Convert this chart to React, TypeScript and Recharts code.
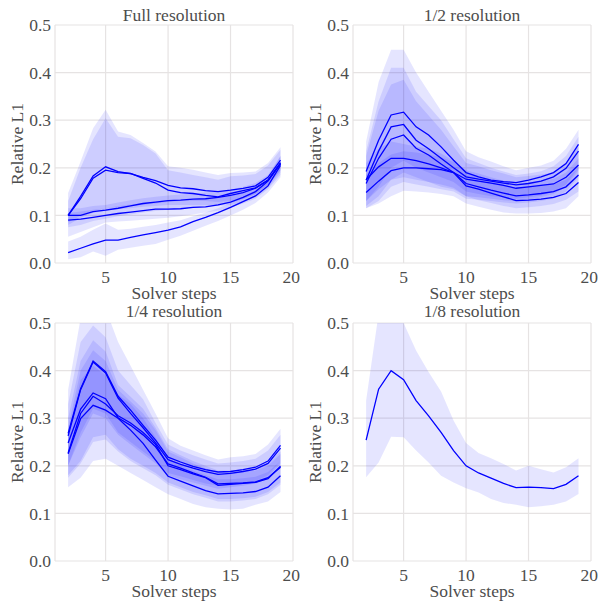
import { ComposedChart, Line, Area, XAxis, YAxis, CartesianGrid } from "recharts";

const steps = [2, 3, 4, 5, 6, 7, 8, 9, 10, 11, 12, 13, 14, 15, 16, 17, 18, 19];
const yTicks = [0, 0.1, 0.2, 0.3, 0.4, 0.5];
const xTicks = [5, 10, 15, 20];

// Full resolution
const fullMean = [
  [0.1, 0.14, 0.183, 0.202, 0.192, 0.188, 0.18, 0.173, 0.163, 0.158, 0.156, 0.152, 0.15, 0.153, 0.157, 0.162, 0.18, 0.216],
  [0.1, 0.135, 0.178, 0.195, 0.19, 0.188, 0.178, 0.168, 0.153, 0.148, 0.146, 0.142, 0.139, 0.146, 0.152, 0.158, 0.174, 0.211],
  [0.1, 0.1, 0.108, 0.111, 0.115, 0.12, 0.125, 0.128, 0.131, 0.132, 0.134, 0.135, 0.138, 0.142, 0.148, 0.157, 0.174, 0.209],
  [0.09, 0.092, 0.096, 0.1, 0.104, 0.107, 0.11, 0.113, 0.113, 0.114, 0.117, 0.118, 0.122, 0.128, 0.138, 0.15, 0.172, 0.209],
  [0.022, 0.031, 0.04, 0.048, 0.048, 0.054, 0.059, 0.064, 0.069, 0.076, 0.087, 0.096, 0.106, 0.117, 0.129, 0.141, 0.162, 0.205],
];
const fullHigh = [
  [0.147, 0.213, 0.283, 0.322, 0.276, 0.269, 0.252, 0.234, 0.203, 0.2, 0.196, 0.19, 0.185, 0.189, 0.19, 0.192, 0.21, 0.243],
  [0.13, 0.2, 0.26, 0.304, 0.265, 0.262, 0.248, 0.23, 0.195, 0.19, 0.185, 0.18, 0.175, 0.182, 0.184, 0.187, 0.205, 0.238],
  [0.115, 0.115, 0.12, 0.122, 0.127, 0.132, 0.136, 0.139, 0.142, 0.144, 0.146, 0.148, 0.15, 0.154, 0.16, 0.168, 0.185, 0.225],
  [0.105, 0.108, 0.112, 0.115, 0.12, 0.123, 0.126, 0.128, 0.13, 0.131, 0.133, 0.135, 0.137, 0.14, 0.148, 0.16, 0.18, 0.225],
  [0.045, 0.055, 0.07, 0.083, 0.07, 0.072, 0.076, 0.08, 0.085, 0.09, 0.098, 0.106, 0.115, 0.126, 0.138, 0.15, 0.17, 0.21],
];
const fullLow = [
  [0.085, 0.1, 0.11, 0.115, 0.118, 0.12, 0.122, 0.125, 0.128, 0.13, 0.13, 0.13, 0.128, 0.13, 0.135, 0.145, 0.165, 0.195],
  [0.08, 0.095, 0.105, 0.11, 0.113, 0.115, 0.118, 0.12, 0.122, 0.122, 0.122, 0.122, 0.12, 0.122, 0.128, 0.138, 0.158, 0.19],
  [0.075, 0.08, 0.088, 0.093, 0.098, 0.102, 0.106, 0.109, 0.112, 0.114, 0.116, 0.118, 0.121, 0.126, 0.134, 0.145, 0.163, 0.195],
  [0.055, 0.065, 0.075, 0.085, 0.087, 0.089, 0.091, 0.093, 0.095, 0.098, 0.102, 0.106, 0.11, 0.116, 0.125, 0.135, 0.155, 0.185],
  [0.008, 0.012, 0.024, 0.015, 0.028, 0.032, 0.036, 0.04, 0.049, 0.057, 0.068, 0.078, 0.088, 0.1, 0.112, 0.126, 0.148, 0.18],
];

// 1/2 resolution
const halfMean = [
  [0.192, 0.258, 0.311, 0.317, 0.286, 0.269, 0.244, 0.216, 0.19, 0.181, 0.174, 0.171, 0.169, 0.174, 0.181, 0.19, 0.209, 0.249],
  [0.174, 0.235, 0.286, 0.291, 0.258, 0.24, 0.22, 0.2, 0.181, 0.176, 0.172, 0.168, 0.164, 0.167, 0.172, 0.181, 0.199, 0.235],
  [0.167, 0.22, 0.26, 0.269, 0.241, 0.227, 0.208, 0.19, 0.176, 0.172, 0.168, 0.163, 0.157, 0.16, 0.163, 0.166, 0.18, 0.206],
  [0.175, 0.202, 0.22, 0.22, 0.215, 0.208, 0.2, 0.19, 0.167, 0.16, 0.153, 0.147, 0.141, 0.143, 0.146, 0.15, 0.16, 0.185],
  [0.148, 0.172, 0.194, 0.2, 0.2, 0.198, 0.196, 0.19, 0.162, 0.155, 0.147, 0.139, 0.131, 0.132, 0.134, 0.138, 0.146, 0.169],
];
const halfHigh = [
  [0.255, 0.38, 0.448, 0.448, 0.4, 0.36, 0.32, 0.28, 0.235, 0.222, 0.213, 0.203, 0.195, 0.2, 0.205, 0.215, 0.24, 0.28],
  [0.235, 0.34, 0.41, 0.41, 0.36, 0.33, 0.3, 0.26, 0.22, 0.21, 0.2, 0.192, 0.185, 0.188, 0.193, 0.203, 0.225, 0.265],
  [0.225, 0.32, 0.375, 0.385, 0.34, 0.31, 0.28, 0.245, 0.21, 0.203, 0.195, 0.188, 0.18, 0.183, 0.186, 0.19, 0.21, 0.245],
  [0.21, 0.24, 0.255, 0.25, 0.245, 0.24, 0.23, 0.215, 0.195, 0.188, 0.18, 0.173, 0.167, 0.17, 0.173, 0.177, 0.19, 0.22],
  [0.185, 0.21, 0.228, 0.235, 0.232, 0.228, 0.222, 0.212, 0.188, 0.18, 0.172, 0.165, 0.158, 0.16, 0.162, 0.165, 0.175, 0.2],
];
const halfLow = [
  [0.13, 0.16, 0.2, 0.215, 0.2, 0.19, 0.18, 0.17, 0.15, 0.145, 0.14, 0.138, 0.135, 0.138, 0.142, 0.15, 0.165, 0.2],
  [0.12, 0.14, 0.175, 0.19, 0.18, 0.17, 0.16, 0.155, 0.14, 0.138, 0.135, 0.132, 0.13, 0.133, 0.138, 0.145, 0.16, 0.195],
  [0.115, 0.13, 0.16, 0.17, 0.165, 0.16, 0.155, 0.15, 0.135, 0.133, 0.13, 0.127, 0.125, 0.127, 0.13, 0.135, 0.15, 0.18],
  [0.13, 0.155, 0.175, 0.18, 0.175, 0.17, 0.165, 0.158, 0.14, 0.132, 0.126, 0.12, 0.115, 0.117, 0.12, 0.124, 0.133, 0.15],
  [0.115, 0.125, 0.14, 0.152, 0.15, 0.148, 0.145, 0.14, 0.125, 0.118, 0.112, 0.106, 0.104, 0.104, 0.105, 0.108, 0.115, 0.14],
];

// 1/4 resolution
const quarterMean = [
  [0.268, 0.362, 0.42, 0.398, 0.346, 0.317, 0.285, 0.254, 0.218, 0.208, 0.199, 0.192, 0.187, 0.188, 0.192, 0.197, 0.21, 0.243],
  [0.263, 0.36, 0.418, 0.395, 0.342, 0.31, 0.28, 0.248, 0.213, 0.203, 0.195, 0.188, 0.182, 0.184, 0.188, 0.193, 0.205, 0.237],
  [0.248, 0.319, 0.353, 0.341, 0.301, 0.285, 0.265, 0.24, 0.204, 0.195, 0.185, 0.176, 0.162, 0.163, 0.164, 0.166, 0.175, 0.197],
  [0.227, 0.31, 0.346, 0.33, 0.305, 0.29, 0.27, 0.245, 0.2, 0.192, 0.183, 0.175, 0.159, 0.161, 0.163, 0.165, 0.173, 0.199],
  [0.225, 0.299, 0.327, 0.317, 0.3, 0.275, 0.247, 0.212, 0.178, 0.168, 0.158, 0.148, 0.141, 0.142, 0.143, 0.146, 0.155, 0.179],
];
const quarterHigh = [
  [0.36, 0.51, 0.6, 0.53, 0.46, 0.41, 0.36, 0.31, 0.258, 0.242, 0.232, 0.222, 0.213, 0.218, 0.22, 0.225, 0.245, 0.278],
  [0.33, 0.46, 0.495, 0.47, 0.4, 0.37, 0.34, 0.29, 0.245, 0.232, 0.222, 0.213, 0.205, 0.207, 0.21, 0.215, 0.232, 0.265],
  [0.3, 0.42, 0.464, 0.44, 0.37, 0.345, 0.32, 0.28, 0.235, 0.222, 0.21, 0.2, 0.19, 0.19, 0.192, 0.195, 0.205, 0.23],
  [0.28, 0.4, 0.443, 0.42, 0.36, 0.335, 0.31, 0.275, 0.23, 0.218, 0.205, 0.195, 0.185, 0.186, 0.188, 0.19, 0.2, 0.225],
  [0.27, 0.38, 0.41, 0.39, 0.35, 0.33, 0.3, 0.26, 0.215, 0.2, 0.19, 0.18, 0.172, 0.172, 0.174, 0.177, 0.187, 0.21],
];
const quarterLow = [
  [0.2, 0.27, 0.32, 0.31, 0.27, 0.25, 0.23, 0.21, 0.185, 0.178, 0.17, 0.163, 0.158, 0.16, 0.163, 0.168, 0.18, 0.21],
  [0.2, 0.26, 0.31, 0.3, 0.265, 0.245, 0.225, 0.205, 0.18, 0.172, 0.165, 0.158, 0.152, 0.155, 0.158, 0.163, 0.175, 0.205],
  [0.18, 0.21, 0.26, 0.265, 0.235, 0.215, 0.2, 0.185, 0.165, 0.155, 0.145, 0.138, 0.13, 0.13, 0.132, 0.135, 0.145, 0.165],
  [0.175, 0.205, 0.25, 0.255, 0.23, 0.21, 0.195, 0.18, 0.16, 0.15, 0.14, 0.133, 0.125, 0.125, 0.127, 0.13, 0.14, 0.16],
  [0.155, 0.175, 0.21, 0.215, 0.2, 0.185, 0.17, 0.155, 0.14, 0.13, 0.12, 0.113, 0.11, 0.108, 0.11, 0.118, 0.125, 0.145],
];

// 1/8 resolution
const eighthMean = [
  [0.254, 0.361, 0.4, 0.381, 0.337, 0.305, 0.27, 0.232, 0.2, 0.185, 0.174, 0.163, 0.154, 0.155, 0.154, 0.152, 0.161, 0.179],
];
const eighthHigh = [
  [0.337, 0.52, 0.58, 0.5, 0.442, 0.397, 0.356, 0.295, 0.248, 0.227, 0.216, 0.204, 0.19, 0.2, 0.193, 0.186, 0.197, 0.216],
];
const eighthLow = [
  [0.176, 0.207, 0.261, 0.26, 0.232, 0.207, 0.179, 0.165, 0.153, 0.144, 0.13, 0.122, 0.118, 0.113, 0.115, 0.118, 0.125, 0.141],
];

const TEXT = "#4d4d4d";
const GRID = "#e6e3e3";
const BLUE = "#0000ff";
const FONT = "'Liberation Serif', 'Times New Roman', serif";
const FS = 17.5;

function buildRows(mean: number[][], low: number[][], high: number[][]) {
  return steps.map((step, i) => {
    const row: Record<string, number | number[]> = { step };
    mean.forEach((s, k) => {
      row[`m${k}`] = s[i];
      row[`b${k}`] = [low[k][i], high[k][i]];
    });
    return row;
  });
}

interface PanelProps {
  title: string;
  left: number;
  top: number;
  titleTop: number;
  mean: number[][];
  low: number[][];
  high: number[][];
}

function Panel({ title, left, top, titleTop, mean, low, high }: PanelProps) {
  const rows = buildRows(mean, low, high);
  return (
    <div style={{ position: "absolute", left, top, width: 300, height: 305 }}>
      <ComposedChart width={300} height={305} data={rows} margin={{ top: 25, right: 7, bottom: 0, left: 0 }}>
        <CartesianGrid stroke={GRID} strokeWidth={1.2} />
        <XAxis
          dataKey="step"
          type="number"
          domain={[0.95, 20]}
          ticks={xTicks}
          allowDataOverflow
          height={42}
          axisLine={false}
          tickLine={false}
          tick={{ fontSize: FS, fill: TEXT }}
          label={{ value: "Solver steps", position: "insideBottom", offset: 6, fill: TEXT, fontSize: FS }}
        />
        <YAxis
          type="number"
          domain={[0, 0.5]}
          ticks={yTicks}
          allowDataOverflow
          width={55}
          axisLine={false}
          tickLine={false}
          tickSize={2}
          tickMargin={2}
          tickFormatter={(v: number) => v.toFixed(1)}
          tick={{ fontSize: FS, fill: TEXT }}
          label={{
            value: "Relative L1",
            angle: -90,
            position: "insideLeft",
            offset: 17,
            textAnchor: "middle",
            style: { textAnchor: "middle" },
            fill: TEXT,
            fontSize: FS,
          }}
        />
        {mean.map((_, k) => (
          <Area
            key={`b${k}`}
            dataKey={`b${k}`}
            type="linear"
            stroke="none"
            fill={BLUE}
            fillOpacity={0.1}
            isAnimationActive={false}
          />
        ))}
        {mean.map((_, k) => (
          <Line
            key={`m${k}`}
            dataKey={`m${k}`}
            type="linear"
            stroke={BLUE}
            strokeWidth={1.3}
            dot={false}
            isAnimationActive={false}
          />
        ))}
      </ComposedChart>
      <div
        style={{
          position: "absolute",
          left: 55,
          width: 238,
          top: titleTop,
          textAlign: "center",
          fontSize: FS,
          lineHeight: "20px",
          color: TEXT,
        }}
      >
        {title}
      </div>
    </div>
  );
}

export default function App() {
  return (
    <div
      style={{
        position: "absolute",
        left: 0,
        top: 0,
        width: 601,
        height: 605,
        background: "#fff",
        fontFamily: FONT,
        overflow: "hidden",
      }}
    >
      <Panel title="Full resolution" left={0} top={0} titleTop={5} mean={fullMean} low={fullLow} high={fullHigh} />
      <Panel title="1/2 resolution" left={298} top={0} titleTop={5} mean={halfMean} low={halfLow} high={halfHigh} />
      <Panel title="1/4 resolution" left={0} top={298} titleTop={3} mean={quarterMean} low={quarterLow} high={quarterHigh} />
      <Panel title="1/8 resolution" left={298} top={298} titleTop={3} mean={eighthMean} low={eighthLow} high={eighthHigh} />
    </div>
  );
}
